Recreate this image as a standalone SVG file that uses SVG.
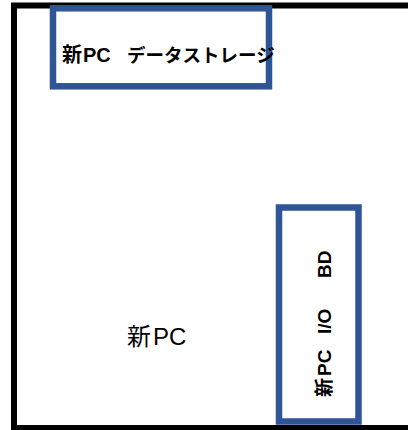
<svg xmlns="http://www.w3.org/2000/svg" width="408" height="430" viewBox="0 0 408 430">
<style>
.t{font-family:"Liberation Sans","Noto Sans CJK JP",sans-serif;fill:#000}
.b{font-weight:bold}
.box{fill:#fff;stroke:#2F5597;stroke-width:6.5}
</style>
<rect width="408" height="430" fill="#fff"/>
<g id="pc">
<rect x="14" y="5.5" width="404" height="422.5" fill="#fff" stroke="#000" stroke-width="6"/>
<text class="t" x="127" y="345" font-size="24">新<tspan x="153">PC</tspan></text>
</g>
<g id="storage">
<rect class="box" x="53" y="8.3" width="216" height="78"/>
<text class="t b" x="62" y="62" font-size="20">新<tspan x="83">PC</tspan><tspan x="127" font-size="18.5">データストレージ</tspan></text>
</g>
<g id="io">
<rect class="box" x="279" y="207.5" width="79.5" height="214"/>
<text class="t b" transform="translate(331,397) rotate(-90)" font-size="19">新<tspan x="21">PC</tspan><tspan x="63">I/O</tspan><tspan x="119">BD</tspan></text>
</g>
<g id="connectors"/>
</svg>
